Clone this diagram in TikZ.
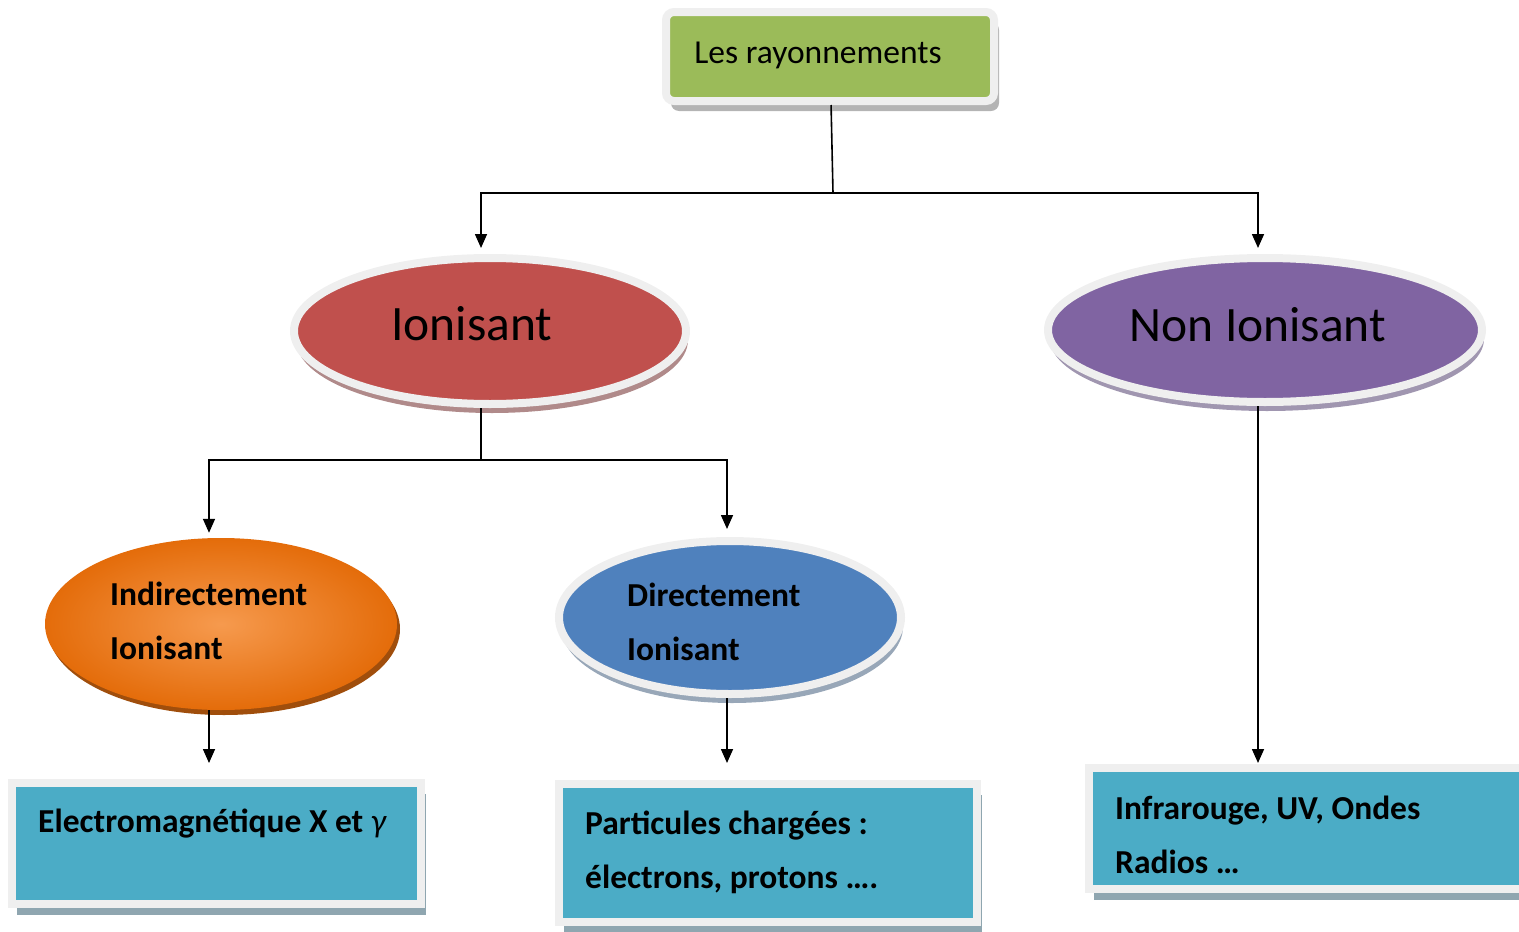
\documentclass[tikz,border=0pt]{standalone}
\usepackage{fontspec}
\setmainfont{Carlito}
\usepackage{tikz}
\usetikzlibrary{arrows.meta,shapes.geometric,shadows}
\definecolor{raygreen}{HTML}{9BBB59}
\definecolor{rayred}{HTML}{C0504D}
\definecolor{raypurple}{HTML}{8064A2}
\definecolor{rayblue}{HTML}{4F81BD}
\definecolor{rayteal}{HTML}{4BACC6}
\definecolor{rayorange}{HTML}{E46C0A}
\definecolor{raylight}{HTML}{F69A4E}
\definecolor{rayrim}{HTML}{EFEFEF}
\definecolor{raygray}{HTML}{B4B4B4}
\definecolor{rayboxsh}{HTML}{8FA6B0}
\definecolor{rayredsh}{HTML}{B08A8A}
\definecolor{raypurpsh}{HTML}{A096B0}
\definecolor{raybluesh}{HTML}{98A7B8}
\definecolor{rayorsh}{HTML}{A04E0C}

\begin{document}
\begin{tikzpicture}[x=1pt, y=-1pt,
  rim/.style={draw=rayrim, line width=8pt, inner sep=0pt},
  oval/.style={rim, ellipse, fill=#1},
  sh/.style={drop shadow={shadow xshift=2pt, shadow yshift=-9pt, opacity=1, fill=#1}},
  boxsh/.style={drop shadow={shadow xshift=5pt, shadow yshift=-11pt, opacity=1, fill=rayboxsh}},
  card/.style={rim, rectangle, fill=rayteal, boxsh},
  toptxt/.style={font=\fontsize{33.5}{38}\selectfont, inner sep=0pt},
  bigtxt/.style={font=\fontsize{49.5}{56}\selectfont, inner sep=0pt},
  lowtxt/.style={font=\bfseries\fontsize{33.5}{54}\selectfont, align=left, inner sep=0pt},
  link/.style={line width=1.6pt},
  arr/.style={link, -{Triangle[length=14pt,width=12pt]}}
]
\useasboundingbox (0,0) rectangle (1519,932);

% top of the tree
\node[rim, rounded corners=8pt, fill=raygreen, minimum width=328pt, minimum height=89pt,
  drop shadow={shadow xshift=5pt, shadow yshift=-10pt, opacity=1, fill=raygray}] (top) at (830,56.5) {};
\node[toptxt] (toptxt) at (818,55) {Les rayonnements};

% second level
\node[oval=rayred, minimum width=392pt, minimum height=146pt, sh=rayredsh] (ion) at (490,331) {};
\node[bigtxt] (iontxt) at (472,324) {Ionisant};
\node[oval=raypurple, minimum width=434pt, minimum height=144pt, sh=raypurpsh] (non) at (1265,330) {};
\node[bigtxt] (nontxt) at (1258,325) {Non Ionisant};

% third level
\node[ellipse, inner sep=0pt, shading=radial, inner color=raylight, outer color=rayorange,
  minimum width=352pt, minimum height=172pt,
  drop shadow={shadow xshift=3pt, shadow yshift=-5pt, opacity=1, fill=rayorsh}] (ind) at (221,624) {};
\node[lowtxt, anchor=west] (indtxt) at (110,621) {Indirectement\\Ionisant};
\node[oval=rayblue, minimum width=342pt, minimum height=153pt, sh=raybluesh] (dir) at (730,617.5) {};
\node[lowtxt, anchor=west] (dirtxt) at (627,622) {Directement\\Ionisant};

% leaves
\node[card, minimum width=409pt, minimum height=121pt] (em) at (216.5,843.5) {};
\node[lowtxt, anchor=base west] (emtxt) at (38,832) {Electromagnétique X et {\mdseries\itshape γ}};
\node[card, minimum width=418pt, minimum height=138pt] (part) at (768,853) {};
\node[lowtxt, anchor=west] (parttxt) at (585,852) {Particules chargées :\\électrons, protons ….};
\node[card, minimum width=451pt, minimum height=121pt] (infra) at (1314.5,828.5) {};
\node[lowtxt, anchor=west] (infratxt) at (1115,835) {Infrarouge, UV, Ondes\\Radios …};

% connectors
\coordinate (sp1) at (833,193);
\coordinate (sp2) at (481,460);
\draw[link] (top) -- (sp1);
\draw[arr, shorten >=6pt] (sp1) -| ([xshift=-9pt]ion.north);
\draw[arr, shorten >=6pt] (sp1) -| ([xshift=-7pt]non.north);
\draw[link] ([xshift=-9pt]ion.south) -- (sp2);
\draw[arr, shorten >=5pt] (sp2) -| ([xshift=-12pt]ind.north);
\draw[arr, shorten >=8pt] (sp2) -| ([xshift=-3pt]dir.north);
\path ([xshift=-12pt]ind.south) coordinate (indout)
      ([xshift=-3pt]dir.south) coordinate (dirout)
      ([xshift=-7pt]non.south) coordinate (nonout);
\draw[arr, shorten >=16pt] (indout) -- (indout |- em.north);
\draw[arr, shorten >=17pt] (dirout) -- (dirout |- part.north);
\draw[arr, shorten >=1pt] (nonout) -- (nonout |- infra.north);
\end{tikzpicture}
\end{document}
